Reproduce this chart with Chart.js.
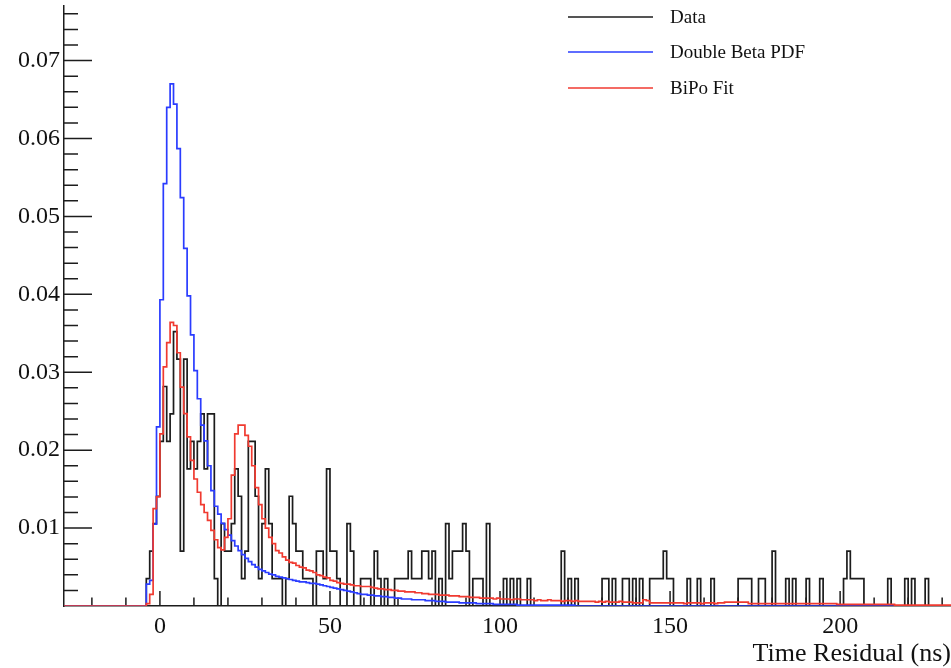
<!DOCTYPE html>
<html>
<head>
<meta charset="utf-8">
<title>Time Residual</title>
<script src="https://cdn.jsdelivr.net/npm/chart.js"></script>
<style>
  html, body { margin: 0; padding: 0; background: #fff; }
  canvas { display: block; }
</style>
</head>
<body>
<canvas id="residuals" width="951" height="668"></canvas>
<script>
// 1 ns bins, first bin starts at -30 ns
var binStart = -30;
var binWidth = 1;

// Data: event counts per bin (normalised by dataNorm)
var dataNorm = 1 / 284;
var dataCounts = [
  0, 0, 0, 0, 0, 0, 0, 0, 0, 0,      // -30
  0, 0, 0, 0, 0, 0, 0, 0, 0, 0,      // -20
  0, 0, 0, 0, 0, 0, 1, 2, 3, 4,      // -10
  6, 8, 6, 7, 10, 9, 2, 9, 5, 6,     // 0
  5, 6, 7, 5, 7, 7, 1, 0, 3, 2,      // 10
  2, 3, 5, 4, 1, 2, 6, 6, 4, 1,      // 20
  3, 5, 3, 1, 1, 1, 0, 1, 4, 3,      // 30
  2, 2, 1, 1, 1, 0, 2, 2, 1, 5,      // 40
  2, 2, 1, 0, 0, 3, 2, 0, 0, 1,      // 50
  1, 1, 0, 2, 1, 0, 1, 0, 0, 1,      // 60
  1, 1, 1, 2, 1, 1, 1, 2, 2, 1,      // 70
  2, 0, 1, 0, 3, 1, 2, 2, 2, 3,      // 80
  2, 0, 1, 1, 1, 0, 3, 0, 0, 0,      // 90
  0, 1, 0, 1, 0, 1, 0, 0, 1, 0,      // 100
  0, 0, 0, 0, 0, 0, 0, 0, 2, 0,      // 110
  1, 0, 1, 0, 0, 0, 0, 0, 0, 0,      // 120
  1, 1, 0, 1, 0, 0, 1, 1, 0, 1,      // 130
  0, 1, 0, 0, 1, 1, 1, 1, 2, 1,      // 140
  1, 0, 0, 0, 0, 1, 0, 0, 1, 0,      // 150
  0, 0, 1, 0, 0, 0, 0, 0, 0, 0,      // 160
  1, 1, 1, 1, 0, 0, 1, 1, 0, 0,      // 170
  2, 0, 0, 0, 1, 0, 1, 0, 0, 0,      // 180
  1, 0, 0, 0, 1, 0, 0, 0, 0, 0,      // 190
  0, 1, 2, 1, 1, 1, 1, 0, 0, 0,      // 200
  0, 0, 0, 0, 1, 0, 0, 0, 0, 1,      // 210
  0, 1, 0, 0, 0, 1, 0, 0, 0, 0,      // 220
  0, 0, 0                            // 230
];

// PDF values in units of 1e-4
var pdfUnit = 1e-4;
var doubleBeta = [
  0, 0, 0, 0, 0, 0, 0, 0, 0, 0,                     // -30
  0, 0, 0, 0, 0, 0, 0, 0, 0, 0,                     // -20
  0, 0, 0, 0, 0, 0, 28, 33, 105, 230,               // -10
  393, 542, 640, 670, 644, 587, 524, 459, 398, 348, // 0
  302, 266, 232, 212, 180, 148, 128, 118, 106, 98,  // 10
  91, 84, 77, 71, 66, 61, 57, 53, 50, 47,           // 20
  45, 43, 41, 40, 38, 37, 36, 35, 34, 33,           // 30
  32, 31, 31, 30, 29, 29, 28, 27, 26, 25,           // 40
  24, 23, 22, 21, 20, 19, 18, 17, 16, 15,           // 50
  15, 14, 14, 13, 13, 12, 12, 11, 11, 10,           // 60
  10, 9, 9, 9, 8, 8, 8, 8, 7, 7,                    // 70
  7, 6, 6, 6, 5, 5, 5, 5, 4, 4,                     // 80
  4, 4, 4, 3, 3, 3, 3, 3, 2, 2,                     // 90
  2, 2, 2, 2, 2, 1, 1, 1, 1, 1,                     // 100
  1, 1, 1, 1, 1, 1, 1, 1, 1, 1,                     // 110
  1, 1, 0, 0, 0, 0, 0, 0, 0, 0,                     // 120
  0, 0, 0, 0, 0, 0, 0, 0, 0, 0,                     // 130
  0, 0, 0, 0, 0, 0, 0, 0, 0, 0,                     // 140
  0, 0, 0, 0, 0, 0, 0, 0, 0, 0,                     // 150
  0, 0, 0, 0, 0, 0, 0, 0, 0, 0,                     // 160
  0, 0, 0, 0, 0, 0, 0, 0, 0, 0,                     // 170
  0, 0, 0, 0, 0, 0, 0, 0, 0, 0,                     // 180
  0, 0, 0, 0, 0, 0, 0, 0, 0, 0,                     // 190
  0, 0, 0, 0, 0, 0, 0, 0, 0, 0,                     // 200
  0, 0, 0, 0, 0, 0, 0, 0, 0, 0,                     // 210
  0, 0, 0, 0, 0, 0, 0, 0, 0, 0,                     // 220
  0, 0, 0                                           // 230
];

var bipoFit = [
  0, 0, 0, 0, 0, 0, 0, 0, 0, 0,                     // -30
  0, 0, 0, 0, 0, 0, 0, 0, 0, 0,                     // -20
  0, 0, 0, 0, 0, 0, 3, 15, 125, 140,                // -10
  221, 307, 338, 364, 360, 325, 281, 247, 217, 187, // 0
  163, 146, 130, 120, 110, 97, 85, 75, 72, 88,      // 10
  112, 168, 221, 232, 232, 219, 205, 180, 152, 130, // 20
  112, 100, 88, 80, 71, 68, 63, 59, 56, 55,         // 30
  52, 50, 49, 46, 45, 43, 40, 39, 37, 36,           // 40
  33, 32, 30, 29, 28, 28, 27, 26, 26, 25,           // 50
  25, 25, 24, 23, 22, 22, 21, 21, 20, 20,           // 60
  19, 19, 18, 18, 18, 17, 17, 16, 16, 15,           // 70
  15, 15, 14, 14, 14, 13, 13, 13, 12, 12,           // 80
  12, 11, 11, 11, 10, 10, 10, 10, 9, 10,            // 90
  9, 9, 9, 8, 9, 9, 8, 8, 8, 8,                     // 100
  7, 8, 7, 7, 8, 7, 7, 7, 6, 7,                     // 110
  7, 6, 7, 6, 6, 6, 6, 6, 5, 6,                     // 120
  5, 6, 5, 5, 5, 6, 5, 5, 5, 4,                     // 130
  4, 4, 8, 7, 4, 4, 4, 4, 4, 4,                     // 140
  4, 4, 4, 4, 3, 4, 4, 4, 4, 3,                     // 150
  4, 4, 4, 3, 4, 4, 5, 5, 5, 5,                     // 160
  5, 5, 5, 3, 3, 3, 3, 3, 3, 3,                     // 170
  3, 3, 3, 3, 3, 3, 3, 3, 3, 3,                     // 180
  3, 3, 3, 3, 3, 3, 3, 3, 3, 2,                     // 190
  2, 2, 2, 2, 2, 2, 2, 2, 2, 2,                     // 200
  2, 2, 2, 2, 2, 2, 1, 1, 1, 1,                     // 210
  1, 1, 1, 1, 1, 1, 1, 1, 1, 1,                     // 220
  1, 1, 1                                           // 230
];

var seriesNames = ['Data', 'Double Beta PDF', 'BiPo Fit'];
var seriesColors = ['#1c1c1c', '#2a3cff', '#f03a30'];

var xTickLabels = [0, 50, 100, 150, 200];
var yTickLabels = ['0.01', '0.02', '0.03', '0.04', '0.05', '0.06', '0.07'];

var SERIF = '"Liberation Serif", "Times New Roman", serif';
var AXIS_COLOR = '#1c1c1c';

// turn a list of bin contents into step-line points on the bin edges
function histPoints(values, scale) {
  var pts = values.map(function (v, i) {
    return { x: binStart + i * binWidth, y: v * scale };
  });
  var last = values[values.length - 1] * scale;
  pts.push({ x: binStart + values.length * binWidth, y: last });
  return pts;
}

// ROOT style ticks pointing into the frame, with minor divisions
var innerTicks = {
  id: 'innerTicks',
  beforeDatasetsDraw: function (chart) {
    var ctx = chart.ctx, area = chart.chartArea;
    var xs = chart.scales.x, ys = chart.scales.y;
    ctx.save();
    ctx.strokeStyle = AXIS_COLOR;
    ctx.lineWidth = 1.5;
    ctx.beginPath();
    for (var v = -20; v <= 230; v += 10) {
      var px = xs.getPixelForValue(v);
      var len = v % 50 === 0 ? 15 : 8.5;
      ctx.moveTo(px, area.bottom);
      ctx.lineTo(px, area.bottom - len);
    }
    for (var k = 1; k <= 38; k++) {
      var py = ys.getPixelForValue(k * 0.002);
      var l = k % 5 === 0 ? 28 : 14;
      ctx.moveTo(area.left, py);
      ctx.lineTo(area.left + l, py);
    }
    ctx.stroke();
    ctx.restore();
  }
};

// legend box in the top right corner
var rootLegend = {
  id: 'rootLegend',
  afterDraw: function (chart) {
    var ctx = chart.ctx;
    var rows = [17, 52, 88];
    ctx.save();
    ctx.font = '19px ' + SERIF;
    ctx.textBaseline = 'middle';
    ctx.textAlign = 'left';
    seriesNames.forEach(function (name, i) {
      ctx.strokeStyle = seriesColors[i];
      ctx.lineWidth = 1.5;
      ctx.beginPath();
      ctx.moveTo(568, rows[i]);
      ctx.lineTo(653, rows[i]);
      ctx.stroke();
      ctx.fillStyle = '#111';
      ctx.fillText(name, 670, rows[i] + 1);
    });
    ctx.restore();
  }
};

var ctx = document.getElementById('residuals').getContext('2d');
var chart = new Chart(ctx, {
  type: 'line',
  data: {
    datasets: [{
      label: seriesNames[0],
      data: histPoints(dataCounts, dataNorm),
      borderColor: seriesColors[0],
      order: 3
    }, {
      label: seriesNames[1],
      data: histPoints(doubleBeta, pdfUnit),
      borderColor: seriesColors[1],
      order: 2
    }, {
      label: seriesNames[2],
      data: histPoints(bipoFit, pdfUnit),
      borderColor: seriesColors[2],
      order: 1
    }]
  },
  options: {
    responsive: false,
    devicePixelRatio: 1,
    animation: false,
    layout: { padding: { top: 6, right: 0, bottom: 0, left: 0 } },
    elements: {
      line: { stepped: 'before', borderWidth: 1.7, fill: false, tension: 0 },
      point: { radius: 0, hoverRadius: 0 }
    },
    plugins: {
      legend: { display: false },
      tooltip: { enabled: false }
    },
    scales: {
      x: {
        type: 'linear',
        min: -28.2,
        max: 232.6,
        grid: { display: false, drawTicks: false },
        border: { display: true, color: AXIS_COLOR, width: 1.5 },
        afterBuildTicks: function (scale) {
          scale.ticks = xTickLabels.map(function (v) { return { value: v }; });
        },
        afterFit: function (scale) {
          scale.height = 62;
          scale.paddingLeft = 0;
          scale.paddingRight = 0;
        },
        ticks: {
          autoSkip: false,
          maxRotation: 0,
          padding: 6,
          color: '#111',
          font: { family: SERIF, size: 24 }
        },
        title: {
          display: true,
          text: 'Time Residual (ns)',
          align: 'end',
          color: '#111',
          padding: { top: 0, bottom: 1 },
          font: { family: SERIF, size: 26, lineHeight: 1 }
        }
      },
      y: {
        min: 0,
        max: 0.077,
        grid: { display: false, drawTicks: false },
        border: { display: true, color: AXIS_COLOR, width: 1.5 },
        afterBuildTicks: function (scale) {
          scale.ticks = yTickLabels.map(function (s) { return { value: parseFloat(s) }; });
        },
        afterFit: function (scale) {
          scale.width = 64;
          scale.paddingTop = 0;
          scale.paddingBottom = 0;
        },
        ticks: {
          padding: 4,
          color: '#111',
          font: { family: SERIF, size: 24 },
          callback: function (value) { return value.toFixed(2); }
        }
      }
    }
  },
  plugins: [innerTicks, rootLegend]
});
</script>
</body>
</html>
